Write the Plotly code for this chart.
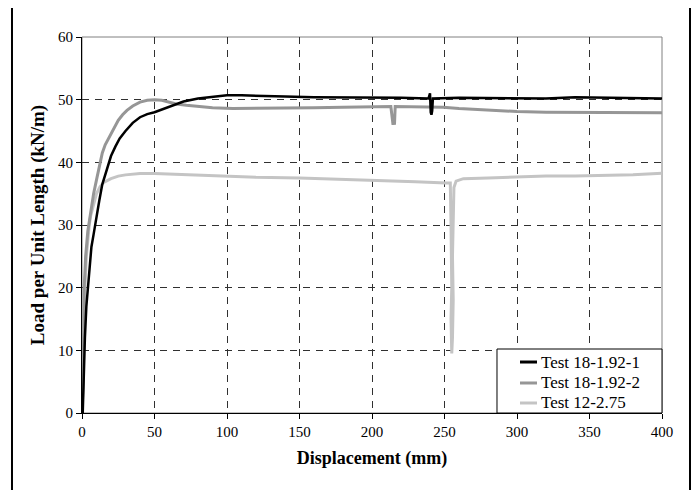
import plotly.graph_objects as go

# Test 18-1.92-1 (black)
t1_x = [0.5, 1, 2, 3, 4, 5, 6.5, 8, 10, 12, 14, 16, 18, 20, 23, 26, 30, 35, 40, 45, 50, 55, 60, 65, 70, 80, 90, 100,
        110, 120, 140, 160, 180, 200, 220, 239, 240, 240.5, 241, 241.5, 242, 260, 280, 300, 320, 340, 360, 380, 400]
t1_y = [0, 5, 12, 17, 20, 23, 26.5, 28.5, 31.5, 34, 36.5, 38, 39.5, 41, 42.5, 43.8, 45, 46.3, 47.2, 47.7, 48, 48.4,
        48.8, 49.3, 49.7, 50.2, 50.5, 50.7, 50.7, 50.6, 50.5, 50.4, 50.4, 50.3, 50.3, 50.2, 51, 48, 47.6, 48.2, 50.2,
        50.3, 50.3, 50.2, 50.2, 50.4, 50.3, 50.2, 50.2]

# Test 18-1.92-2 (mid grey)
t2_x = [0, 0.8, 1, 1.2, 1.5, 2.5, 4, 6, 8, 10, 12, 14, 16, 19, 22, 25, 28, 31, 35, 40, 45, 50, 55, 60, 65, 72, 80,
        90, 104, 120, 140, 160, 180, 200, 213, 214, 214.5, 215, 215.5, 216, 230, 249, 260, 280, 300, 320, 340, 360,
        380, 400]
t2_y = [0, 5, 10, 15, 20, 25, 29, 32, 35, 37.2, 39.5, 41.5, 42.8, 44.1, 45.5, 46.7, 47.6, 48.3, 49, 49.6, 49.9, 50,
        49.9, 49.6, 49.3, 49.1, 48.9, 48.7, 48.6, 48.6, 48.7, 48.7, 48.8, 48.9, 48.9, 47, 46, 46.5, 46, 48.9, 48.9,
        48.8, 48.6, 48.3, 48.1, 48, 48, 47.9, 47.9, 47.9]

# Test 12-2.75 (light grey)
t3_x = [0, 0.5, 1, 1.5, 2, 3, 4, 5, 6, 8, 10, 12.4, 15, 20, 25, 30, 40, 50, 60, 70, 80, 104, 120, 150, 180, 205,
        230, 251, 254, 254.5, 255, 254.5, 255, 255.5, 256, 255.5, 256, 256.5, 258, 263, 280, 300, 320, 340, 360,
        380, 400]
t3_y = [0, 3, 8, 14, 20, 25, 28, 30, 31.5, 33.5, 35, 36.1, 36.8, 37.4, 37.8, 38, 38.2, 38.2, 38.1, 38.0, 37.9, 37.7,
        37.6, 37.5, 37.3, 37.1, 36.9, 36.7, 36.7, 30, 20, 15, 9.5, 12, 18, 25, 33, 36, 37, 37.4, 37.5, 37.7, 37.8,
        37.8, 37.9, 38, 38.25]

series_names = ["Test 18-1.92-1", "Test 18-1.92-2", "Test 12-2.75"]
series_colors = ["#000000", "#969696", "#c4c4c4"]

x_ticks = [0, 50, 100, 150, 200, 250, 300, 350, 400]
y_ticks = [0, 10, 20, 30, 40, 50, 60]

FONT = "Liberation Serif"

fig = go.Figure()
fig.add_trace(go.Scatter(x=t3_x, y=t3_y, mode="lines", name=series_names[2], showlegend=False,
                         line=dict(color=series_colors[2], width=3)))
fig.add_trace(go.Scatter(x=t2_x, y=t2_y, mode="lines", name=series_names[1], showlegend=False,
                         line=dict(color=series_colors[1], width=3)))
fig.add_trace(go.Scatter(x=t1_x, y=t1_y, mode="lines", name=series_names[0], showlegend=False,
                         line=dict(color=series_colors[0], width=2.5)))

# plot-area thin grey border (top/right)
fig.add_shape(type="rect", xref="x domain", yref="y domain", x0=0, x1=1, y0=0, y1=1,
              line=dict(color="#808080", width=1), layer="below")
# outer black frame
fig.add_shape(type="rect", xref="paper", yref="paper", x0=-0.1207, x1=1.0483, y0=-0.23, y1=1.0798,
              line=dict(color="#000000", width=2))

# legend box (bottom-right inside plot area)
fig.add_shape(type="rect", xref="paper", yref="paper", x0=0.7155, x1=1.0, y0=0.0, y1=0.1702,
              line=dict(color="#000000", width=1), fillcolor="white", layer="above")
row_y = [0.1356, 0.0798, 0.0266]
for name, col, ry in zip(series_names, series_colors, row_y):
    fig.add_shape(type="line", xref="paper", yref="paper", x0=0.7552, x1=0.7845, y0=ry, y1=ry,
                  line=dict(color=col, width=3), layer="above")
    fig.add_annotation(xref="paper", yref="paper", x=0.788, y=ry, xanchor="left", yanchor="middle",
                       text=name, showarrow=False, font=dict(family=FONT, size=17, color="black"))

fig.update_layout(
    width=691, height=482,
    margin=dict(l=74, r=37, t=29, b=77, autoexpand=False),
    paper_bgcolor="white", plot_bgcolor="white",
    font=dict(family=FONT, size=15, color="black"),
    showlegend=False,
    xaxis=dict(range=[0, 400], tickvals=x_ticks, ticks="outside", ticklen=5, tickcolor="black",
               showline=True, linecolor="black", linewidth=1,
               showgrid=True, gridcolor="#303030", gridwidth=1, griddash="7px,6px",
               zeroline=False, automargin=False,
               title=dict(text="<b>Displacement (mm)</b>", font=dict(family=FONT, size=18), standoff=12),
               tickfont=dict(family=FONT, size=15)),
    yaxis=dict(range=[0, 60], tickvals=y_ticks, ticks="outside", ticklen=5, tickcolor="black",
               showline=True, linecolor="black", linewidth=1,
               showgrid=True, gridcolor="#303030", gridwidth=1, griddash="7px,6px",
               zeroline=False, automargin=False,
               title=dict(text="<b>Load per Unit Length (kN/m)</b>", font=dict(family=FONT, size=19), standoff=8),
               tickfont=dict(family=FONT, size=15)),
)

fig.write_html("out.html")
